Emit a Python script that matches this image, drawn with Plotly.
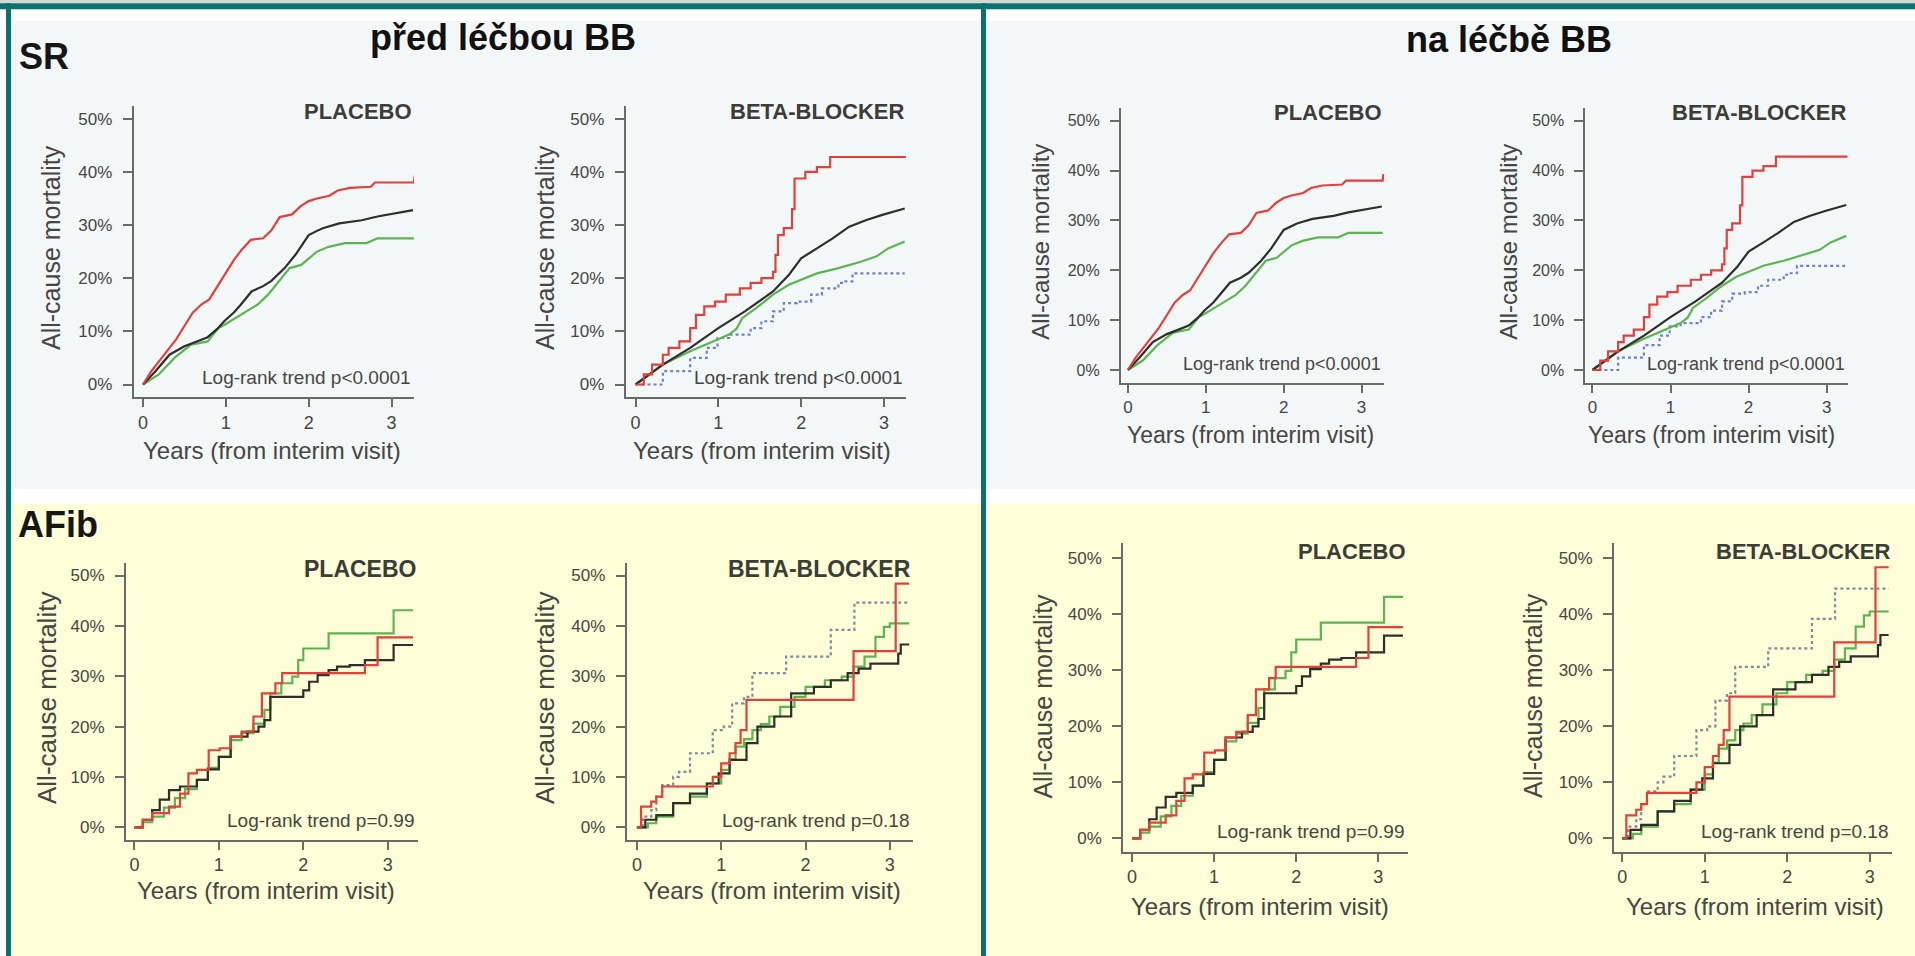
import plotly.graph_objects as go

W, H = 1915, 956

# ---------------- data: years from interim visit vs. all-cause mortality (%) ----------------
# Sinus rhythm, placebo arm
sr_pl_red_t = [0, 0.1, 0.2, 0.3, 0.4, 0.5, 0.6, 0.7, 0.8, 0.9, 1.0, 1.1, 1.2, 1.3, 1.45, 1.55, 1.65, 1.8,
               1.9, 2.0, 2.1, 2.25, 2.35, 2.5, 2.75, 2.8, 3.27, 3.28]
sr_pl_red_y = [0, 2.5, 4.5, 6.5, 8.5, 11, 13.5, 15, 16, 18.5, 21, 23.5, 25.5, 27.2, 27.5, 29, 31.5, 32,
               33.5, 34.5, 35, 35.5, 36.5, 37, 37.2, 38, 38, 39.3]
sr_pl_blk_t = [0, 0.15, 0.32, 0.5, 0.65, 0.78, 0.9, 0.98, 1.1, 1.18, 1.31, 1.45, 1.55, 1.71, 1.84, 2.0,
               2.1, 2.17, 2.37, 2.64, 2.83, 3.03, 3.26]
sr_pl_blk_y = [0, 2.5, 5.6, 7.2, 8.1, 8.9, 10.5, 11.9, 13.6, 15, 17.5, 18.5, 19.5, 21.9, 24.4, 28.1,
               28.9, 29.4, 30.3, 30.9, 31.6, 32.2, 32.8]
sr_pl_grn_t = [0, 0.19, 0.38, 0.58, 0.78, 0.91, 0.98, 1.18, 1.38, 1.51, 1.64, 1.77, 1.91, 2.1, 2.24,
               2.44, 2.7, 2.83, 3.27]
sr_pl_grn_y = [0, 1.9, 5, 7.5, 8.1, 10.6, 11.2, 13.1, 15, 16.9, 19.4, 21.9, 22.5, 25, 25.9, 26.6,
               26.6, 27.5, 27.5]

# Sinus rhythm, beta-blocker arm
sr_bb_red_t = [0, 0.1, 0.2, 0.33, 0.4, 0.53, 0.66, 0.73, 0.83, 0.96, 1.09, 1.26, 1.39, 1.52, 1.66,
               1.69, 1.72, 1.79, 1.89, 1.92, 2.05, 2.19, 2.35, 3.27]
sr_bb_red_y = [0, 1.9, 3.75, 5.6, 6.9, 8.1, 10.6, 13.1, 14.7, 15.6, 16.9, 18.1, 19.1, 20, 21.2, 24.4,
               28.1, 29.4, 33, 38.75, 40, 40.9, 42.8, 42.8]
sr_bb_blk_t = [0, 0.33, 0.66, 1.0, 1.32, 1.66, 1.85, 2.0, 2.19, 2.38, 2.58, 2.78, 2.98, 3.11, 3.25]
sr_bb_blk_y = [0, 3.75, 6.9, 10.6, 13.75, 17.5, 20.6, 23.75, 25.6, 27.5, 29.7, 30.9, 31.9, 32.5, 33.1]
sr_bb_grn_t = [0, 0.33, 0.66, 0.93, 1.13, 1.22, 1.29, 1.46, 1.66, 1.85, 2.0, 2.19, 2.45, 2.72, 2.91,
               3.05, 3.25]
sr_bb_grn_y = [0, 3.75, 6.25, 8.1, 9.4, 10.5, 12.5, 14.4, 16.9, 18.75, 19.7, 20.9, 21.9, 23.1, 24.1,
               25.6, 26.9]
sr_bb_dot_t = [0, 0.33, 0.66, 0.86, 0.99, 1.13, 1.39, 1.52, 1.66, 1.79, 1.95, 2.12, 2.25, 2.45, 2.52,
               2.62, 3.25]
sr_bb_dot_y = [0, 2.5, 5, 6.9, 8.75, 9.4, 10.6, 11.9, 13.75, 15.3, 15.6, 16.9, 18.1, 19.1, 19.4, 20.9,
               20.9]

# Atrial fibrillation, placebo arm
af_pl_grn_t = [0, 0.1, 0.21, 0.35, 0.48, 0.6, 0.74, 0.87, 1.0, 1.14, 1.27, 1.41, 1.54, 1.61, 1.74,
               1.87, 1.94, 2.0, 2.3, 3.07, 3.3]
af_pl_grn_y = [0, 1.0, 2.1, 3.9, 5.8, 7.6, 9.4, 11.8, 14, 17.3, 18.7, 20.6, 23.3, 26.6, 28.6, 29.9,
               33.2, 35.5, 38.5, 43.1, 43.1]
af_pl_red_t = [0, 0.1, 0.21, 0.41, 0.54, 0.64, 0.74, 0.88, 1.01, 1.14, 1.27, 1.41, 1.51, 1.67, 1.75,
               2.73, 2.88, 3.3]
af_pl_red_y = [0, 1.5, 2.8, 4.1, 6.7, 10.7, 11.4, 15.3, 15.7, 18, 19, 22, 26.6, 28.6, 30.6, 32.2,
               37.7, 37.7]
af_pl_blk_t = [0, 0.1, 0.21, 0.3, 0.41, 0.54, 0.74, 0.87, 1.0, 1.14, 1.34, 1.47, 1.54, 1.61, 1.94,
               2.0, 2.07, 2.17, 2.3, 2.4, 2.55, 2.73, 3.07, 3.3]
af_pl_blk_y = [0, 1.5, 3.4, 5.5, 7.4, 8.1, 9.4, 11.5, 14, 18, 19, 20, 21.3, 25.9, 25.9, 27.2, 28.9,
               30.2, 31.2, 31.9, 32.2, 33.2, 36.2, 36.2]

# Atrial fibrillation, beta-blocker arm
af_bb_dot_t = [0, 0.07, 0.17, 0.23, 0.3, 0.43, 0.5, 0.63, 0.9, 1.03, 1.13, 1.27, 1.37, 1.77, 2.3,
               2.58, 3.23]
af_bb_dot_y = [0, 2.1, 3.4, 6.1, 8.4, 10, 11, 14.7, 19.3, 20, 24.6, 25.9, 30.6, 33.9, 39.2, 44.6, 44.6]
af_bb_red_t = [0, 0.05, 0.17, 0.23, 0.3, 0.9, 1.0, 1.1, 1.17, 1.23, 1.3, 2.57, 3.07, 3.23]
af_bb_red_y = [0, 4.1, 5.1, 6.1, 8.1, 10, 12.7, 14.7, 16.7, 19.3, 25.3, 35, 48.4, 48.4]
af_bb_grn_t = [0, 0.13, 0.23, 0.43, 0.63, 0.83, 1.0, 1.1, 1.17, 1.27, 1.37, 1.47, 1.57, 1.7, 1.87,
               2.0, 2.23, 2.43, 2.57, 2.7, 2.83, 2.93, 3.0, 3.23]
af_bb_grn_y = [0, 0.8, 2.1, 4.8, 6.1, 8.7, 11.4, 13.5, 16, 17.5, 19.3, 20.5, 22, 23.9, 25.9, 27.9,
               29.2, 29.9, 31.9, 33.9, 37.8, 39.8, 40.5, 40.5]
af_bb_blk_t = [0, 0.1, 0.23, 0.43, 0.63, 0.83, 0.97, 1.1, 1.3, 1.43, 1.63, 1.83, 2.1, 2.3, 2.5, 2.63,
               2.77, 3.1, 3.13, 3.23]
af_bb_blk_y = [0, 1.5, 2.4, 4.8, 6.7, 8.7, 10.7, 13.4, 16.7, 20, 22, 26.6, 27.9, 29.2, 30.6, 31.5,
               32.5, 34.5, 36.3, 36.3]

y_tick_vals = [0, 10, 20, 30, 40, 50]
y_tick_text = ["0%", "10%", "20%", "30%", "40%", "50%"]
x_tick_vals = [0, 1, 2, 3]

panel_titles = {"pl": "PLACEBO", "bb": "BETA-BLOCKER"}
logrank_sr = "Log-rank trend p<0.0001"
logrank_af_pl = "Log-rank trend p=0.99"
logrank_af_bb = "Log-rank trend p=0.18"
x_title = "Years (from interim visit)"
y_title = "All-cause mortality"

# ---------------- styles ----------------
RED, BLK, GRN = "#e2403b", "#2e2e2a", "#5db453"
DOT_SR, DOT_AF = "#6f82c4", "#7d8aa0"
AXIS_COL = "#6a6a66"
TXT_COL = "#464642"
FONT = "Liberation Sans, Arial, sans-serif"

curves = {
    "sr_pl": [(sr_pl_grn_t, sr_pl_grn_y, GRN, "solid", "linear"),
              (sr_pl_blk_t, sr_pl_blk_y, BLK, "solid", "linear"),
              (sr_pl_red_t, sr_pl_red_y, RED, "solid", "linear")],
    "sr_bb": [(sr_bb_dot_t, sr_bb_dot_y, DOT_SR, "dot", "hv"),
              (sr_bb_grn_t, sr_bb_grn_y, GRN, "solid", "linear"),
              (sr_bb_blk_t, sr_bb_blk_y, BLK, "solid", "linear"),
              (sr_bb_red_t, sr_bb_red_y, RED, "solid", "hv")],
    "af_pl": [(af_pl_grn_t, af_pl_grn_y, GRN, "solid", "hv"),
              (af_pl_blk_t, af_pl_blk_y, BLK, "solid", "hv"),
              (af_pl_red_t, af_pl_red_y, RED, "solid", "hv")],
    "af_bb": [(af_bb_dot_t, af_bb_dot_y, DOT_AF, "dot", "hv"),
              (af_bb_grn_t, af_bb_grn_y, GRN, "solid", "hv"),
              (af_bb_blk_t, af_bb_blk_y, BLK, "solid", "hv"),
              (af_bb_red_t, af_bb_red_y, RED, "solid", "hv")],
}

# Panel geometry in pixels: y-axis line x, tick x for 0 and 3 years, end of x-axis,
# tick y for 0% and 50%, x-axis line y, top of y-axis; plus text anchors and a font scale.
panels = [
    dict(data="sr_pl", kind="pl", lr=logrank_sr, ax=133.5, x0=143, x3=391.5, xe=414,
         y0=384.5, y50=118.7, yb=397.3, yt=106, tt_y=111.7, lr_y=377, xt=(271.5, 450.7), yt_c=(51, 248), s=1.0),
    dict(data="sr_bb", kind="bb", lr=logrank_sr, ax=625.5, x0=635.5, x3=884, xe=906,
         y0=384.5, y50=118.7, yb=397.3, yt=106, tt_y=111.7, lr_y=377, xt=(761.5, 450.7), yt_c=(545, 248), s=1.0),
    dict(data="sr_pl", kind="pl", lr=logrank_sr, ax=1120.7, x0=1127.9, x3=1361.6, xe=1384.3,
         y0=370, y50=120.7, yb=382.7, yt=108, tt_y=113, lr_y=364, xt=(1250, 435), yt_c=(1041, 241.7), s=0.96),
    dict(data="sr_bb", kind="bb", lr=logrank_sr, ax=1585.2, x0=1592.4, x3=1826.7, xe=1847.6,
         y0=370, y50=120.7, yb=382.7, yt=108, tt_y=113, lr_y=364, xt=(1711, 435), yt_c=(1509, 241.7), s=0.96),
    dict(data="af_pl", kind="pl", lr=logrank_af_pl, ax=125.8, x0=134.4, x3=387.7, xe=417.5,
         y0=827.3, y50=575.5, yb=840, yt=562.7, tt_y=568.8, lr_y=820, xt=(265.6, 890), yt_c=(47, 698), s=1.02),
    dict(data="af_bb", kind="bb", lr=logrank_af_bb, ax=626.6, x0=636.9, x3=889.8, xe=912.5,
         y0=827.3, y50=575.5, yb=840, yt=562.7, tt_y=568.8, lr_y=820, xt=(772, 890), yt_c=(545, 698), s=1.02),
    dict(data="af_pl", kind="pl", lr=logrank_af_pl, ax=1123.1, x0=1132, x3=1378.3, xe=1408,
         y0=838.3, y50=558.3, yb=851.7, yt=543, tt_y=551.7, lr_y=831, xt=(1260, 906.7), yt_c=(1042.6, 696), s=1.0),
    dict(data="af_bb", kind="bb", lr=logrank_af_bb, ax=1613.9, x0=1622.2, x3=1869.7, xe=1892.4,
         y0=838.3, y50=558.3, yb=851.7, yt=543, tt_y=551.7, lr_y=831, xt=(1755, 906.7), yt_c=(1533, 696), s=1.0),
]


def px(x):
    return x / W


def py(y):
    return 1 - y / H


fig = go.Figure()
layout = {}
annotations = []

for i, p in enumerate(panels, start=1):
    sfx = "" if i == 1 else str(i)
    ppy = (p["x3"] - p["x0"]) / 3.0          # pixels per year
    pp1 = (p["y0"] - p["y50"]) / 50.0        # pixels per percentage point
    xr = [(p["ax"] - p["x0"]) / ppy, (p["xe"] - p["x0"]) / ppy]
    yr = [-(p["yb"] - p["y0"]) / pp1, (p["y0"] - p["yt"]) / pp1]
    s = p["s"]

    layout["xaxis" + sfx] = dict(
        domain=[px(p["ax"]), px(p["xe"])], range=xr, anchor="y" + sfx,
        showgrid=False, zeroline=False, showline=True, linecolor=AXIS_COL, linewidth=1.6,
        ticks="outside", ticklen=8, tickwidth=1.6, tickcolor=AXIS_COL,
        tickvals=x_tick_vals, ticktext=[str(v) for v in x_tick_vals],
        tickfont=dict(family=FONT, size=round(18 * s), color=TXT_COL),
        fixedrange=True,
    )
    layout["yaxis" + sfx] = dict(
        domain=[py(p["yb"]), py(p["yt"])], range=yr, anchor="x" + sfx,
        showgrid=False, zeroline=False, showline=True, linecolor=AXIS_COL, linewidth=1.6,
        ticks="outside", ticklen=9, tickwidth=1.6, tickcolor=AXIS_COL,
        tickvals=y_tick_vals, ticktext=y_tick_text,
        tickfont=dict(family=FONT, size=round(17 * s), color=TXT_COL), ticklabelstandoff=7,
        fixedrange=True,
    )

    for t, y, col, dash, shape in curves[p["data"]]:
        fig.add_trace(go.Scatter(
            x=t, y=y, mode="lines", xaxis="x" + sfx, yaxis="y" + sfx,
            line=dict(color=col, width=2.2, dash=dash, shape=shape),
            showlegend=False, hoverinfo="skip",
        ))

    # panel heading (right aligned to the axis end)
    annotations.append(dict(
        text="<b>" + panel_titles[p["kind"]] + "</b>", x=px(p["xe"]), y=py(p["tt_y"]),
        xref="paper", yref="paper", xanchor="right", yanchor="middle", showarrow=False,
        font=dict(family=FONT, size=round(22.5 * s), color="#3c3c38"),
    ))
    # log-rank test note
    annotations.append(dict(
        text=p["lr"], x=px(p["xe"] - 1), y=py(p["lr_y"]),
        xref="paper", yref="paper", xanchor="right", yanchor="middle", showarrow=False,
        font=dict(family=FONT, size=round(19 * s), color=TXT_COL),
    ))
    # axis titles
    annotations.append(dict(
        text=x_title, x=px(p["xt"][0]), y=py(p["xt"][1]),
        xref="paper", yref="paper", xanchor="center", yanchor="middle", showarrow=False,
        font=dict(family=FONT, size=round(23.5 * s), color=TXT_COL),
    ))
    annotations.append(dict(
        text=y_title, x=px(p["yt_c"][0]), y=py(p["yt_c"][1]), textangle=-90,
        xref="paper", yref="paper", xanchor="center", yanchor="middle", showarrow=False,
        font=dict(family=FONT, size=round(25 * s), color=TXT_COL),
    ))

# section headings
BOLD_FONT = "Liberation Sans, Arial, sans-serif"
for txt, x, y in [("před léčbou BB", 503, 37), ("na léčbě BB", 1509, 39)]:
    annotations.append(dict(
        text="<b>" + txt + "</b>", x=px(x), y=py(y), xref="paper", yref="paper",
        xanchor="center", yanchor="middle", showarrow=False,
        font=dict(family=BOLD_FONT, size=36, color="#111111"),
    ))
for txt, x, y in [("SR", 17, 56), ("AFib", 16, 524)]:
    annotations.append(dict(
        text="<b>" + txt + "</b>", x=px(x), y=py(y), xref="paper", yref="paper",
        xanchor="left", yanchor="middle", showarrow=False,
        font=dict(family=BOLD_FONT, size=36, color="#161616"),
    ))

# backgrounds, frame and separators
TEAL = "#0a7171"
BG_TOP = "#f3f7f8"
BG_BOT = "#fdfdd7"
shapes = []


def rect(x0, y0, x1, y1, col):
    shapes.append(dict(type="rect", xref="paper", yref="paper", layer="below",
                       x0=px(x0), x1=px(x1), y0=py(y1), y1=py(y0),
                       fillcolor=col, line=dict(width=0)))


rect(0, 0, W, 3.3, "#d6d6d6")
rect(11, 20.7, 981, 489, BG_TOP)
rect(986, 20.7, W, 489, BG_TOP)
rect(11, 504, 981, H, BG_BOT)
rect(986, 504, W, H, BG_BOT)
rect(0, 3.3, W, 9.3, TEAL)
rect(6, 3.3, 11, H, TEAL)
rect(981, 3.3, 986, H, TEAL)

fig.update_layout(
    width=W, height=H, margin=dict(l=0, r=0, t=0, b=0),
    paper_bgcolor="white", plot_bgcolor="rgba(0,0,0,0)",
    showlegend=False, annotations=annotations, shapes=shapes, **layout,
)

fig.write_html("out.html", config=dict(displayModeBar=False))
